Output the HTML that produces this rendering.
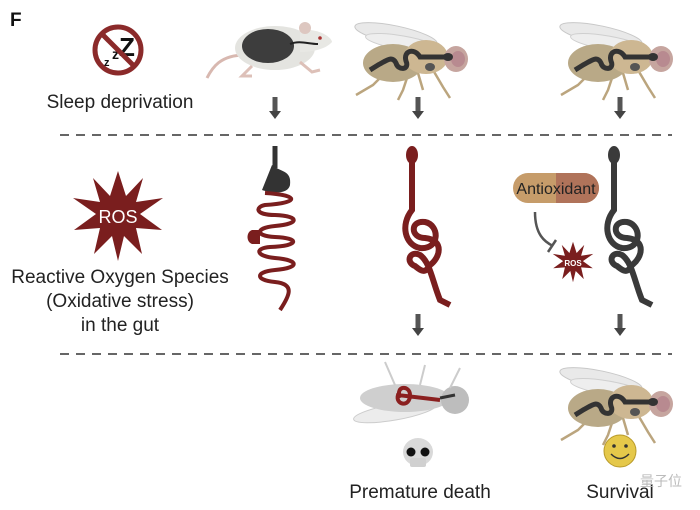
<!DOCTYPE html>
<html><head><meta charset="utf-8"><style>
html,body{margin:0;padding:0;background:#fff;}
svg{display:block;font-family:"Liberation Sans",Arial,sans-serif;}
</style></head><body>
<svg width="700" height="510" viewBox="0 0 700 510" xmlns="http://www.w3.org/2000/svg">
<defs>
<g id="fly">
  <ellipse cx="48" cy="20" rx="42" ry="9" transform="rotate(12 48 20)" fill="#e9e9e9" stroke="#c8c8c8" stroke-width="1"/>
  <ellipse cx="55" cy="28" rx="38" ry="7" transform="rotate(10 55 28)" fill="#eeeeee" stroke="#cfcfcf" stroke-width="1"/>
  <g stroke="#bba57e" stroke-width="2.5" fill="none">
    <path d="M40 55 L25 70 L8 80"/><path d="M60 60 L55 75 L50 85"/><path d="M85 55 L95 72 L102 83"/><path d="M70 58 L75 75"/>
  </g>
  <ellipse cx="45" cy="48" rx="30" ry="19" fill="#b9a987"/>
  <ellipse cx="78" cy="42" rx="22" ry="17" fill="#cdb792"/>
  <ellipse cx="108" cy="44" rx="12" ry="13" fill="#c6a59f"/>
  <ellipse cx="110" cy="44" rx="7" ry="8" fill="#b88a90"/>
  <path d="M100 42 L72 42 C66 32 55 36 58 46 C62 55 50 56 48 48 C44 40 38 46 30 50 L22 55" stroke="#333" stroke-width="5" fill="none"/>
  <ellipse cx="100" cy="42" rx="5" ry="4" fill="#333"/>
  <ellipse cx="82" cy="52" rx="5" ry="4" fill="#555"/>
</g>
<polygon id="star" points="0,-45 8,-20 25,-38 18,-14 45,-18 22,-2 44,14 18,12 24,38 6,20 0,45 -6,20 -24,38 -18,12 -44,14 -22,-2 -45,-18 -18,-14 -25,-38 -8,-20" fill="#7a1e1e"/>
<g id="arrow"><rect x="-2.5" y="0" width="5" height="16" fill="#555"/><polygon points="-6,14 6,14 0,22" fill="#444"/></g>
</defs>

<text x="10" y="26" font-size="19" font-weight="bold" fill="#111">F</text>

<circle cx="118" cy="50" r="23" fill="none" stroke="#8b2a2a" stroke-width="5"/>
<text x="104" y="66" font-size="11" font-weight="bold" fill="#111">z</text>
<text x="112" y="59" font-size="14" font-weight="bold" fill="#111">z</text>
<text x="119" y="56" font-size="26" font-weight="bold" fill="#111">Z</text>
<line x1="102" y1="34" x2="134" y2="66" stroke="#8b2a2a" stroke-width="5"/>
<text x="120" y="108" font-size="19" text-anchor="middle" fill="#222">Sleep deprivation</text>

<!-- mouse -->
<path d="M245 55 C220 55 212 68 207 78" stroke="#d8b8b0" stroke-width="3" fill="none"/>
<ellipse cx="275" cy="48" rx="40" ry="22" fill="#e4e4e0"/>
<path d="M300 30 C320 28 332 38 332 42 C325 50 310 52 300 52 Z" fill="#e8e8e4"/>
<circle cx="305" cy="28" r="6" fill="#ddc7c0"/>
<circle cx="320" cy="38" r="1.8" fill="#a33"/>
<ellipse cx="268" cy="46" rx="26" ry="17" fill="#3d3d3d"/>
<path d="M290 44 C300 40 308 44 318 44" stroke="#222" stroke-width="2" fill="none"/>
<g stroke="#ddc0b8" stroke-width="3" fill="none"><path d="M252 66 L242 76 L252 76"/><path d="M300 62 L312 72 L320 70"/></g>

<use href="#fly" x="348" y="15"/>
<use href="#fly" x="553" y="15"/>

<use href="#arrow" x="275" y="97"/>
<use href="#arrow" x="418" y="97"/>
<use href="#arrow" x="620" y="97"/>

<line x1="60" y1="135" x2="672" y2="135" stroke="#333" stroke-width="1.5" stroke-dasharray="9,7"/>

<use href="#star" x="118" y="216"/>
<text x="118" y="223" font-size="18" text-anchor="middle" fill="#fff">ROS</text>
<text x="120" y="283" font-size="19" text-anchor="middle" fill="#222">Reactive Oxygen Species</text>
<text x="120" y="307" font-size="19" text-anchor="middle" fill="#222">(Oxidative stress)</text>
<text x="120" y="331" font-size="19" text-anchor="middle" fill="#222">in the gut</text>

<!-- gut 1 -->
<path d="M275 146 L275 168" stroke="#333" stroke-width="5"/>
<path d="M272 165 C280 172 292 170 290 185 C288 195 270 193 262 190 Z" fill="#333"/>
<path d="M265 193 C300 195 300 203 265 205 C255 207 255 215 275 215 C300 216 300 224 275 226 C255 228 255 236 275 237 C300 238 300 246 270 247 C255 248 255 256 275 258 C300 260 300 268 275 270 C255 272 255 280 275 282 C295 284 290 295 280 310" stroke="#7a1e1e" stroke-width="4" fill="none"/>
<path d="M252 230 C246 232 246 242 252 244 L260 244 L260 230 Z" fill="#7a1e1e"/>

<!-- gut 2 -->
<ellipse cx="412" cy="155" rx="6" ry="9" fill="#7a1e1e"/>
<path d="M412 160 L412 210 C400 225 405 245 420 248 C440 250 440 225 425 222 C410 220 410 238 425 238 C445 240 440 258 430 265 C425 275 420 270 415 266 C405 262 410 250 420 255 C430 262 432 280 440 300 L450 305" stroke="#7a1e1e" stroke-width="6" fill="none"/>

<!-- pill -->
<rect x="513" y="173" width="86" height="30" rx="15" fill="#c69c6a"/>
<path d="M556 173 L584 173 A15 15 0 0 1 584 203 L556 203 Z" fill="#b0735a"/>
<text x="556" y="194" font-size="16" text-anchor="middle" fill="#222">Antioxidant</text>
<path d="M535 212 C535 235 545 242 553 246" stroke="#555" stroke-width="2.5" fill="none"/>
<line x1="548" y1="252" x2="556" y2="240" stroke="#555" stroke-width="2.5"/>
<g transform="translate(573,262) scale(0.45)"><use href="#star"/></g>
<text x="573" y="266" font-size="8" font-weight="bold" text-anchor="middle" fill="#fff">ROS</text>

<!-- gut 3 -->
<ellipse cx="614" cy="155" rx="6" ry="9" fill="#3a3a3a"/>
<path d="M614 160 L614 210 C602 225 607 245 622 248 C642 250 642 225 627 222 C612 220 612 238 627 238 C647 240 642 258 632 265 C627 275 622 270 617 266 C607 262 612 250 622 255 C632 262 634 280 642 300 L652 305" stroke="#3a3a3a" stroke-width="6" fill="none"/>

<use href="#arrow" x="418" y="314"/>
<use href="#arrow" x="620" y="314"/>

<line x1="60" y1="354" x2="672" y2="354" stroke="#333" stroke-width="1.5" stroke-dasharray="9,7"/>

<!-- dead fly -->
<ellipse cx="395" cy="412" rx="42" ry="8" transform="rotate(-10 395 412)" fill="#ececec" stroke="#ccc"/>
<ellipse cx="405" cy="398" rx="45" ry="14" fill="#cfcfcf"/>
<ellipse cx="455" cy="400" rx="14" ry="14" fill="#bdbdbd"/>
<path d="M395 385 L385 362 M420 385 L425 365 M450 388 L460 368" stroke="#ccc" stroke-width="2"/>
<path d="M400 398 C395 385 410 385 410 395 C410 408 395 405 398 395 L440 400" stroke="#8b2020" stroke-width="4" fill="none"/>
<path d="M440 398 L455 395" stroke="#333" stroke-width="3"/>

<use href="#fly" x="553" y="360"/>

<ellipse cx="418" cy="452" rx="15" ry="14" fill="#d9d9d9"/>
<rect x="410" y="458" width="16" height="9" rx="2" fill="#d0d0d0"/>
<circle cx="411" cy="452" r="4.5" fill="#111"/>
<circle cx="425" cy="452" r="4.5" fill="#111"/>

<circle cx="620" cy="451" r="16" fill="#e5c84a" stroke="#b89a2a" stroke-width="1"/>
<circle cx="614" cy="446" r="1.8" fill="#333"/><circle cx="626" cy="446" r="1.8" fill="#333"/>
<path d="M611 454 Q620 463 629 454" stroke="#333" stroke-width="1.5" fill="none"/>

<text x="420" y="498" font-size="19" text-anchor="middle" fill="#222">Premature death</text>
<text x="620" y="498" font-size="19" text-anchor="middle" fill="#222">Survival</text>
<text x="640" y="486" font-size="14" fill="#bbb" font-family="'Liberation Sans','Noto Sans CJK SC',sans-serif">量子位</text>
</svg>
</body></html>
